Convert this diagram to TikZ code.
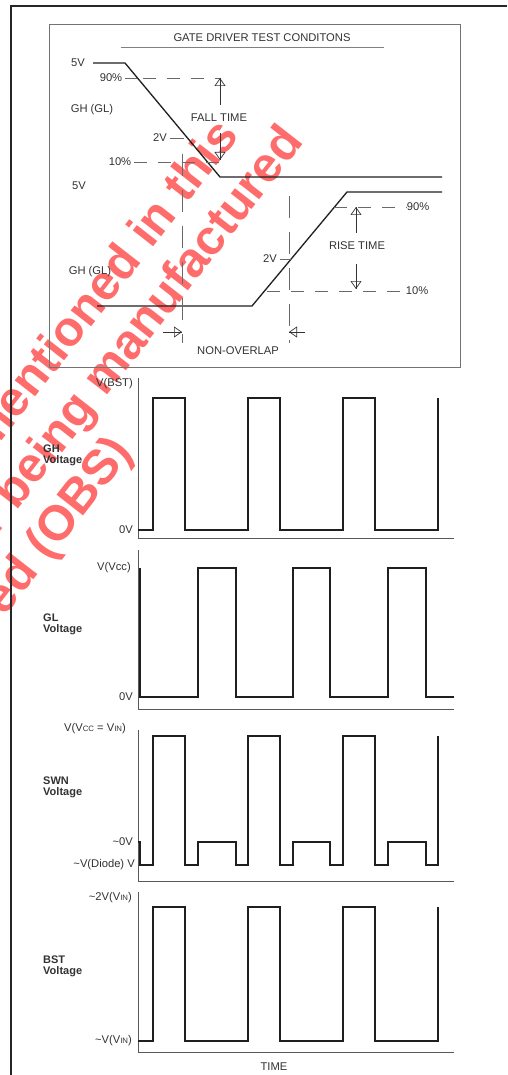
\documentclass[tikz,border=0pt]{standalone}
\usepackage{fontspec}
\setmainfont{Liberation Sans}
\usetikzlibrary{arrows.meta}
\definecolor{wmred}{RGB}{255,108,108}
\definecolor{inkgray}{RGB}{50,50,50}
\definecolor{dimgray}{RGB}{105,105,105}
\tikzset{
  lbl/.style={font=\fontsize{11.2}{11.5}\selectfont, text=inkgray, inner sep=0pt},
  ylbl/.style={lbl, anchor=east},
  chartname/.style={font=\fontsize{11}{11}\selectfont\bfseries, text=inkgray, align=left, anchor=west, inner sep=0pt},
  sig/.style={draw=black!88, line width=1.3pt},
  axis/.style={draw=black!65, line width=0.9pt},
  hdim/.style={draw=dimgray, line width=0.8pt, dash pattern=on 13pt off 11pt},
  vdim/.style={draw=dimgray, line width=0.8pt, dash pattern=on 22pt off 14pt},
  tickline/.style={draw=dimgray, line width=0.8pt},
  hollow/.style={draw=black!80, line width=0.7pt, -{Triangle[open,length=8pt,width=11pt]}},
  stamp/.style={font=\fontsize{49}{49}\selectfont\bfseries, text=wmred, rotate=52, anchor=base east, inner sep=0pt},
}
\newcommand{\smallcap}[1]{{\fontsize{7.8}{8}\selectfont #1}}

\begin{document}
\begin{tikzpicture}[x=1pt,y=-1pt]
    \useasboundingbox (0,0) rectangle (507,1075);
    % stamp across the page
    \begin{scope}
    \clip (0,0) rectangle (507,1075);
    \node[stamp] (stampA) at (240,136) {mentioned in this};
    \node[stamp] (stampB) at (305,142) {longer being manufactured};
    \node[stamp] (stampC) at (134,452) {red (OBS)};
    \end{scope}
    % page frame
    \draw[line width=1.3pt,black!85] (11,1075) -- (11,6) -- (507,6);
    % test conditions box
    \draw[line width=0.9pt,black!55] (49,24) rectangle (460,367);
    \node[lbl] (title) at (262,38) {GATE DRIVER TEST CONDITONS};
    \draw[line width=1pt,black!50] (121,48) -- (384,48);
    % falling edge
    \draw[sig] (93,63) -- (125,63) -- (220,177) -- (442,177);
    \node[lbl] (fiveA) at (78,63) {5V};
    \node[lbl] (ghA) at (92,110) {GH (GL)};
    \node[lbl] (ninetyA) at (111,78) {90\%};
    \node[lbl] (twoA) at (160,138) {2V};
    \node[lbl] (tenA) at (120,162) {10\%};
    \node[lbl] (fall) at (219,118) {FALL TIME};
    \draw[tickline] (ninetyA.east) ++(3,0) -- (137,78);
    \draw[hdim] (143,78) -- (220,78);
    \draw[tickline] (twoA.east) ++(3,0) -- (184,138);
    \draw[tickline] (tenA.east) ++(3,0) -- (147,162);
    \draw[hdim] (158,162) -- (223,162);
    \coordinate (fallUp0) at (220,105);
    \coordinate (fallUp1) at (220,78);
    \coordinate (fallDn0) at (220,133);
    \coordinate (fallDn1) at (220,160);
    \draw[hollow] (fallUp0) -- (fallUp1);
    \draw[hollow] (fallDn0) -- (fallDn1);
    \draw[line width=0.7pt,black!80] (fallUp0) -- (fallUp1) (fallDn0) -- (fallDn1);
    % rising edge
    \draw[sig] (97,306) -- (252,306) -- (347,192) -- (442,192);
    \node[lbl] (fiveB) at (79,186) {5V};
    \node[lbl] (ghB) at (90,272) {GH (GL)};
    \node[lbl] (ninetyB) at (418,207) {90\%};
    \node[lbl] (twoB) at (270,259) {2V};
    \node[lbl] (tenB) at (417,291) {10\%};
    \node[lbl] (rise) at (357,246) {RISE TIME};
    \draw[hdim] (334,207) -- (ninetyB.west);
    \draw[tickline] (twoB.east) ++(3,0) -- (291,259);
    \draw[hdim] (267,291) -- (tenB.west);
    \coordinate (riseUp0) at (356,233);
    \coordinate (riseUp1) at (356,207);
    \coordinate (riseDn0) at (356,264);
    \coordinate (riseDn1) at (356,289);
    \draw[hollow] (riseUp0) -- (riseUp1);
    \draw[hollow] (riseDn0) -- (riseDn1);
    \draw[line width=0.7pt,black!80] (riseUp0) -- (riseUp1) (riseDn0) -- (riseDn1);
    % non-overlap
    \draw[vdim] (182,154) -- (182,343);
    \draw[vdim] (289,196) -- (289,343);
    \coordinate (gapL0) at (163,332);
    \coordinate (gapL1) at (182,332);
    \coordinate (gapR0) at (305,332);
    \coordinate (gapR1) at (289,332);
    \draw[hollow] (gapL0) -- (gapL1);
    \draw[hollow] (gapR0) -- (gapR1);
    \draw[line width=0.7pt,black!80] (gapL0) -- (gapL1) (gapR0) -- (gapR1);
    \node[lbl] (nonoverlap) at (238,351) {NON-OVERLAP};

    % GH voltage
    \draw[axis] (138,378) -- (138,538) -- (454,538);
    \node[ylbl] (ghTop) at (133,384) {V(BST)};
    \node[ylbl] (ghLow) at (133,530) {0V};
    \node[chartname] (ghName) at (43,455) {GH\\Voltage};
    \draw[sig] (138,530) -- (153,530) -- (153,398) -- (185,398) -- (185,530)
        -- (248,530) -- (248,398) -- (280,398) -- (280,530)
        -- (343,530) -- (343,398) -- (375,398) -- (375,530)
        -- (438,530) -- (438,398);
    % GL voltage
    \draw[axis] (138,550) -- (138,709) -- (454,709);
    \node[ylbl] (glTop) at (131,568) {V(Vcc)};
    \node[ylbl] (glLow) at (133,697) {0V};
    \node[chartname] (glName) at (43,624) {GL\\Voltage};
    \draw[sig] (140,568) -- (140,697) -- (198,697) -- (198,568) -- (236,568) -- (236,697)
        -- (293,697) -- (293,568) -- (330,568) -- (330,697)
        -- (388,697) -- (388,568) -- (426,568) -- (426,697) -- (454,697);
    % SWN voltage
    \draw[axis] (138,730) -- (138,881) -- (454,881);
    \node[ylbl] (swTop) at (126,729) {V(V\smallcap{CC} = V\smallcap{IN})};
    \node[ylbl] (swZero) at (133,842) {\textasciitilde0V};
    \node[ylbl] (swDiode) at (135,865) {\textasciitilde V(Diode) V};
    \node[chartname] (swName) at (43,787) {SWN\\Voltage};
    \draw[sig] (138,842) -- (140,842) -- (140,865) -- (153,865) -- (153,736) -- (185,736) -- (185,865)
        -- (198,865) -- (198,842) -- (236,842) -- (236,865)
        -- (248,865) -- (248,736) -- (280,736) -- (280,865)
        -- (293,865) -- (293,842) -- (330,842) -- (330,865)
        -- (343,865) -- (343,736) -- (375,736) -- (375,865)
        -- (388,865) -- (388,842) -- (426,842) -- (426,865)
        -- (438,865) -- (438,736);
    % BST voltage
    \draw[axis] (138,892) -- (138,1052) -- (454,1052);
    \node[ylbl] (bsTop) at (132,898) {\textasciitilde2V(V\smallcap{IN})};
    \node[ylbl] (bsLow) at (132,1041) {\textasciitilde V(V\smallcap{IN})};
    \node[chartname] (bsName) at (43,966) {BST\\Voltage};
    \draw[sig] (138,1041) -- (153,1041) -- (153,907) -- (185,907) -- (185,1041)
        -- (248,1041) -- (248,907) -- (280,907) -- (280,1041)
        -- (343,1041) -- (343,907) -- (375,907) -- (375,1041)
        -- (438,1041) -- (438,907);
    \node[lbl] (time) at (274,1067) {TIME};
\end{tikzpicture}
\end{document}
